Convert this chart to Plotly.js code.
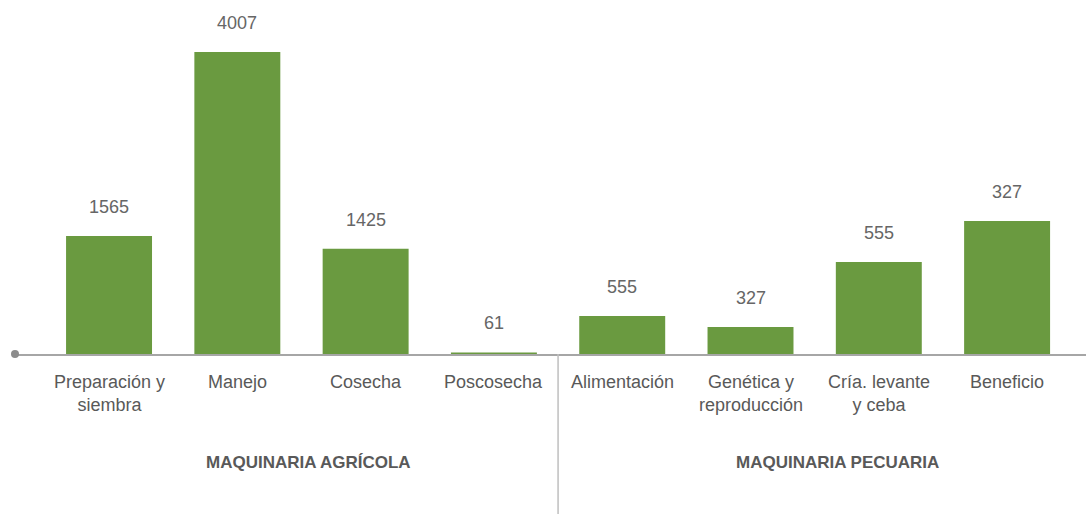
<!DOCTYPE html>
<html>
<head>
<meta charset="utf-8">
<script src="https://cdn.plot.ly/plotly-3.0.1.min.js"></script>
<style>
  html, body { margin: 0; padding: 0; background: #fff; }
  #chart { width: 1086px; height: 514px; }
</style>
</head>
<body>
<div id="chart"></div>
<script>
// ---- data ----
const categories = ["Preparación y<br>siembra", "Manejo", "Cosecha", "Poscosecha",
                    "Alimentación", "Genética y<br>reproducción", "Cría. levante<br>y ceba", "Beneficio"];
const barValues = [1565, 4007, 1395, 20, 504, 358, 1221, 1765];
const valueLabels = ["1565", "4007", "1425", "61", "555", "327", "555", "327"];
const groupNames = ["MAQUINARIA AGRÍCOLA", "MAQUINARIA PECUARIA"];

const FONT = '"Liberation Sans Narrow", "Arial Narrow", "Liberation Sans", Arial, sans-serif';
const BAR = '#6a9a40';

const idx = categories.map((c, i) => i);

const trace = {
  type: 'bar',
  x: idx,
  y: barValues,
  marker: { color: BAR },
  hoverinfo: 'none'
};

const annotations = [];
// value labels above bars
idx.forEach(i => {
  annotations.push({
    x: i, y: barValues[i], xref: 'x', yref: 'y',
    text: valueLabels[i], showarrow: false,
    xanchor: 'center', yanchor: 'middle', yshift: 29,
    font: { family: FONT, size: 18, color: '#666666' }
  });
});
// category labels
idx.forEach(i => {
  annotations.push({
    x: i, y: 0, xref: 'x', yref: 'paper',
    text: categories[i], showarrow: false,
    xanchor: 'center', yanchor: 'top', yshift: -16,
    font: { family: FONT, size: 18, color: '#595959' }
  });
});
// group labels
[0.2745, 0.7684].forEach((px, g) => {
  annotations.push({
    x: px, y: 0, xref: 'paper', yref: 'paper',
    text: '<b>' + groupNames[g] + '</b>', showarrow: false,
    xanchor: 'center', yanchor: 'middle', yshift: -108,
    font: { family: FONT, size: 17, color: '#595959' }
  });
});

const layout = {
  width: 1086, height: 514,
  margin: { l: 15, r: 0, t: 0, b: 160 },
  paper_bgcolor: '#ffffff', plot_bgcolor: '#ffffff',
  showlegend: false,
  bargap: 0.33,
  xaxis: {
    type: 'linear',
    range: [-0.733, 7.615],
    showticklabels: false, showgrid: false, zeroline: false,
    showline: true, linecolor: '#a6a6a6', linewidth: 2, ticks: ''
  },
  yaxis: {
    range: [0, 4697],
    visible: false, showgrid: false, zeroline: false
  },
  annotations: annotations,
  shapes: [
    { type: 'line', xref: 'x', yref: 'paper', x0: 3.5, x1: 3.5, y0: 0, y1: -0.46,
      line: { color: '#bfbfbf', width: 1.5 } },
    { type: 'circle', xref: 'paper', yref: 'paper', xsizemode: 'pixel', ysizemode: 'pixel',
      xanchor: 0, yanchor: 0, x0: -4, x1: 4, y0: -4, y1: 4,
      fillcolor: '#8c8c8c', line: { width: 0 } }
  ]
};

Plotly.newPlot('chart', [trace], layout, { displayModeBar: false, staticPlot: true });
</script>
</body>
</html>
